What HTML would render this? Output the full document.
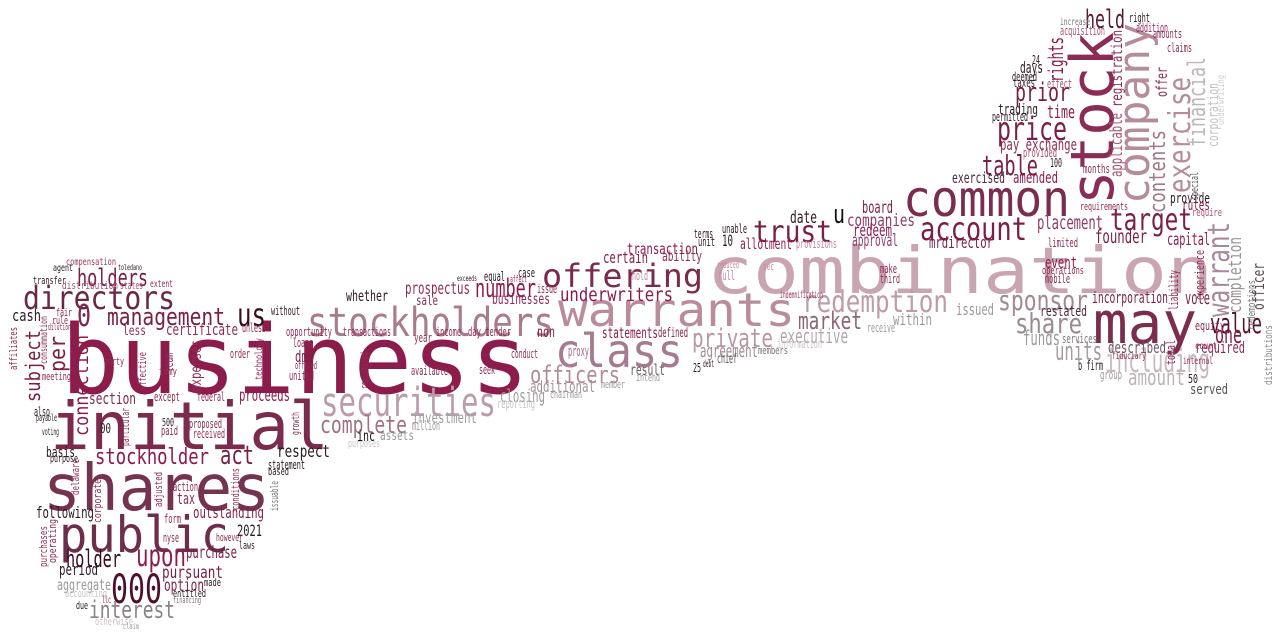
<!DOCTYPE html>
<html><head><meta charset="utf-8">
<style>
html,body{margin:0;padding:0;background:#fff;}
svg{display:block;}
text{font-family:"DejaVu Sans Mono","Liberation Mono",monospace;}
</style></head>
<body>
<svg id="cloud" width="1280" height="640" viewBox="0 0 1280 640" xmlns="http://www.w3.org/2000/svg"></svg>
<script>
// word, x, baseline, font size, text length, color, vertical flag
const C1='#8c1c4b',C2='#7a2a4c',C3='#6a2846',C4='#4e0f2c',P1='#a8556f',P2='#b97a93',L1='#c9a5b2',L2='#b58c9c',G1='#9a9a9a',G2='#c6c6c6',K='#2a1a22',GP='#a08a95';
const words=[
['business',61,393,95,468,C1,0],
['initial',50,449,66,279,'#7b2b4c',0],
['shares',43,510,64,227,'#74344f',0],
['public',59,552,50,170,'#6d2e4b',0],
['combination',707,293,64,506,L1,0],
['warrants',558,326,46,237,'#b88c9c',0],
['stockholders',307,336,40,247,'#a87b8d',0],
['securities',321,416,40,175,'#bb9cab',0],
['class',555,367,46,128,'#a67b8f',0],
['common',903,216,50,167,'#7b2d4f',0],
['may',1093,343,58,104,'#7b2d4e',0],
['stock',1113,205,60,173,'#8a2c55',1],
['company',1149,204,44,181,L2,1],
['offering',542,287,32,161,C2,0],
['account',920,240,32,107,'#7a1f45',0],
['target',1110,230,30,82,'#7a1f45',0],
['trust',753,242,30,79,'#7a1f45',0],
['redemption',802,312,30,146,'#bf9aa9',0],
['sponsor',998,310,28,90,GP,0],
['share',1015,333,28,67,'#9a8a92',0],
['units',1055,360,26,47,'#a49aa0',0],
['including',1105,372,32,105,'#c9b8bf',0],
['amount',1128,385,22,57,'#bdb3b8',0],
['price',997,140,32,70,'#7a1f45',0],
['prior',1015,101,26,55,'#7a1f45',0],
['table',982,175,28,56,'#7a1f45',0],
['held',1085,28,26,40,'#5a1a35',0],
['time',1047,118,18,28,C1,0],
['directors',23,309,32,152,C3,0],
['management',107,325,24,118,'#7a1f45',0],
['us',237,326,32,29,'#3a0c20',0],
['holders',77,286,24,71,'#7a1f45',0],
['number',475,297,26,61,C1,0],
['private',692,347,26,81,'#b896a4',0],
['market',798,329,24,64,'#8a6575',0],
['officers',530,383,24,90,'#b28a9a',0],
['complete',320,433,24,87,'#9e7384',0],
['underwriters',560,301,19,113,C1,0],
['executive',780,343,20,68,'#b3a6ac',0],
['agreement',700,357,18,58,GP,0],
['additional',530,392,16,65,'#a3919a',0],
['closing',500,402,18,45,G1,0],
['stockholder',95,464,22,114,C1,0],
['act',220,464,26,34,'#7a1f45',0],
['upon',136,566,30,50,C1,0],
['holder',66,567,24,55,'#3a0c20',0],
['000',111,603,40,51,C4,0],
['interest',89,618,24,86,'#8a8285',0],
['purchase',186,558,17,51,'#7a1f45',0],
['pursuant',162,578,17,61,'#7a1f45',0],
['option',164,591,17,40,'#7a1f45',0],
['period',59,575,16,39,K,0],
['aggregate',57,590,15,54,G1,0],
['outstanding',193,518,16,71,'#7a1f45',0],
['following',36,518,16,58,K,0],
['2021',237,536,16,25,K,0],
['tax',177,504,16,18,'#8e2c55',0],
['respect',277,457,17,53,K,0],
['proceeds',239,401,17,51,C1,0],
['section',89,404,16,47,'#7a2a4c',0],
['certificate',166,335,16,72,'#8e2c55',0],
['cash',12,321,16,29,K,0],
['0',77,326,30,14,'#7a2a4c',0],
['prospectus',405,294,17,65,'#8e2c55',0],
['whether',346,301,15,42,K,0],
['businesses',492,304,15,58,'#8e2c55',0],
['statements',602,338,15,56,C1,0],
['transaction',627,254,15,71,C1,0],
['certain',603,263,16,45,C1,0],
['ability',662,261,14,40,'#8e2c55',0],
['allotment',740,249,15,52,C1,0],
['provisions',796,248,12,41,'#c4899f',0],
['date',790,223,17,27,K,0],
['u',833,223,26,12,'#111',0],
['board',862,213,17,31,'#7a1f45',0],
['companies',847,226,17,68,'#8e3b66',0],
['redeem',853,236,17,39,C1,0],
['approval',852,246,17,46,'#8e3b66',0],
['mrdirector',929,248,16,64,'#7a1f45',0],
['placement',1037,229,19,66,'#8e3b66',0],
['founder',1095,243,19,52,'#7a1f45',0],
['capital',1167,245,17,43,C1,0],
['value',1210,333,28,52,'#5a0f2e',0],
['one',1215,343,24,27,'#7a1f45',0],
['required',1195,353,16,50,'#8e2c55',0],
['described',1108,353,16,58,'#6b5a62',0],
['incorporation',1092,303,16,76,'#7a1f45',0],
['restated',1040,316,14,47,'#4a2a3a',0],
['issued',956,315,16,38,G1,0],
['vote',1185,304,18,25,'#7a1f45',0],
['within',893,325,16,39,G1,0],
['funds',1023,345,20,37,G1,0],
['event',1045,268,16,32,C1,0],
['operations',1042,274,11,42,'#8e2c55',0],
['mobile',1045,283,12,25,'#8e2c55',0],
['limited',1048,247,12,30,'#8e2c55',0],
['requirements',1080,210,11,48,'#8e2c55',0],
['provide',1170,203,14,40,K,0],
['rules',1182,210,14,28,C1,0],
['require',1192,216,11,30,P1,0],
['exercised',952,183,15,53,'#4a2a3a',0],
['amended',1013,183,16,45,C1,0],
['pay exchange',1000,150,16,77,'#8e2c55',0],
['provided',1023,157,12,34,P1,0],
['permitted',992,121,12,36,K,0],
['trading',998,114,14,40,K,0],
['days',1020,73,16,23,K,0],
['deemed',1012,81,12,25,K,0],
['taxes',1013,87,12,22,K,0],
['effect',1047,88,12,25,P1,0],
['100',1050,167,12,12,K,0],
['months',1083,173,12,27,'#8e2c55',0],
['24',1032,64,12,8,K,0],
['rights',1063,82,20,45,C1,1],
['registration',1122,107,15,77,'#8e2c55',1],
['applicable',1122,177,17,64,P1,1],
['offer',1167,97,15,30,'#8e2c55',1],
['contents',1165,213,22,83,'#a07a8a',1],
['exercise',1190,193,30,116,L2,1],
['financial',1205,147,24,90,'#bdb7ba',1],
['corporation',1218,147,14,64,'#c3c0c2',1],
['underwriting',1224,125,10,50,'#d0cdcf',1],
['special',1198,200,11,28,'#555',1],
['warrant',1229,317,30,95,'#a8889a',1],
['completion',1241,313,18,76,'#9a9296',1],
['officer',1264,310,16,47,'#5a4a52',1],
['experience',1204,300,12,50,'#8e2c55',1],
['liability',1178,310,12,40,'#8e2c55',1],
['redemptions',1255,330,11,50,'#777',1],
['distributions',1272,385,11,60,'#888',1],
['total',1175,365,12,25,'#8e2c55',1],
['served',1190,394,14,38,'#555',0],
['equity',1195,330,12,30,'#8e2c55',0],
['court',1195,349,10,22,'#8e2c55',0],
['internal',1183,364,10,30,'#8e2c55',0],
['50',1188,383,12,10,K,0],
['services',1062,343,12,35,'#777',0],
['fiduciary',1112,359,10,34,'#8e2c55',0],
['group',1100,379,12,22,G1,0],
['b firm',1078,370,13,25,K,0],
['subject',40,402,20,72,'#7a1f45',1],
['per',65,372,22,36,'#7a1f45',1],
['connection',88,436,19,101,C1,1],
['expenses',201,392,15,52,'#8e2c55',1],
['affiliates',17,370,11,43,'#8e2c55',1],
['consummation',47,364,10,48,'#8e2c55',1],
['team',173,372,12,19,'#8e2c55',1],
['effective',146,390,11,38,'#8e2c55',1],
['technology',262,380,10,42,'#8e2c55',1],
['particular',129,446,11,38,'#8e2c55',1],
['adjusted',162,507,11,35,'#8e2c55',1],
['conditions',239,510,11,42,'#8e2c55',1],
['delaware',79,495,11,36,'#8e2c55',1],
['corporate',101,523,11,44,'#8e2c55',1],
['operating',56,563,11,44,'#8e2c55',1],
['purchases',47,567,11,41,'#8e2c55',1],
['issuable',278,511,11,30,'#777',1],
['growth',299,435,11,23,'#8e2c55',1],
['registered',368,389,11,37,'#8e2c55',1],
['acquisition',1060,35,12,45,P1,0],
['increase',1060,25,10,30,'#777',0],
['right',1129,22,12,21,K,0],
['addition',1136,32,12,32,'#8e2c55',0],
['amounts',1153,38,12,29,'#8e2c55',0],
['claims',1167,52,12,25,'#8e2c55',0],
['compensation',66,265,10,50,'#8e3b5c',0],
['agent',53,271,10,20,K,0],
['toledano',118,270,8,24,K,0],
['transfer',33,284,11,33,K,0],
['distribution',62,289,11,56,P1,0],
['states',120,289,11,23,P1,0],
['extent',150,287,10,23,'#8e2c55',0],
['fair',56,316,11,16,'#8e2c55',0],
['rule',52,324,11,16,'#8e2c55',0],
['dilution',48,330,9,23,'#8e2c55',0],
['less',123,335,13,23,'#8e2c55',0],
['unless',242,332,12,24,'#8e2c55',0],
['without',271,315,12,29,K,0],
['opportunity',286,336,12,46,'#8e2c55',0],
['transactions',343,336,12,48,'#8e2c55',0],
['income',436,336,12,25,'#8e2c55',0],
['day tender',468,336,12,43,'#8e2c55',0],
['order',230,358,12,20,'#8e2c55',0],
['party',104,365,11,20,'#8e2c55',0],
['meeting',42,380,11,29,'#8e2c55',0],
['tdmy',159,375,11,18,'#8e2c55',0],
['loans',293,347,12,20,'#8e2c55',0],
['offered',295,369,11,22,'#8e2c55',0],
['united',289,380,12,25,'#8e2c55',0],
['year',414,342,12,18,'#8e2c55',0],
['available',411,375,12,37,'#8e2c55',0],
['conduct',511,358,12,27,'#8e2c55',0],
['seek',479,374,12,16,'#8e2c55',0],
['except',154,401,12,26,'#8e2c55',0],
['federal',197,401,12,28,'#8e2c55',0],
['also',34,416,12,16,K,0],
['payable',36,421,10,21,K,0],
['voting',42,435,10,17,K,0],
['paid',161,435,12,17,'#8e2c55',0],
['500',162,426,11,12,K,0],
['proposed',189,428,12,33,'#8e2c55',0],
['received',193,438,12,32,'#8e2c55',0],
['00',100,433,13,11,K,0],
['purpose',50,462,11,28,K,0],
['based',268,475,11,21,K,0],
['action',173,491,12,25,'#8e2c55',0],
['form',164,523,12,17,'#8e2c55',0],
['however',216,541,11,27,'#8e2c55',0],
['laws',239,549,11,16,K,0],
['nyse',163,542,12,16,'#8e2c55',0],
['made',204,586,11,17,K,0],
['entitled',173,597,11,33,K,0],
['financing',173,603,9,28,'#777',0],
['accounting',65,597,11,42,G2,0],
['due',76,609,11,12,K,0],
['llc',102,603,10,9,'#8e2c55',0],
['otherwise',95,625,11,38,G2,0],
['claim',123,629,8,16,G1,0],
['dmy',295,362,16,19,'#7a1f45',0],
['inc',357,441,15,18,'#111',0],
['assets',380,440,13,34,G1,0],
['purposes',348,447,11,32,G2,0],
['million',412,430,12,28,G1,0],
['investment',412,423,15,65,'#a3a0a2',0],
['equal',484,281,13,21,K,0],
['case',518,277,12,17,K,0],
['affect',510,282,9,17,'#8e2c55',0],
['exceeds',457,281,8,20,K,0],
['issue',537,293,12,20,'#8e2c55',0],
['sale',416,305,13,22,'#8e2c55',0],
['proxy',568,356,14,21,'#a6628a',0],
['result',630,375,15,35,'#6b5a62',0],
['intend',636,381,11,24,G1,0],
['member',601,388,11,24,G1,0],
['chairman',550,398,11,32,G1,0],
['chief',717,363,13,20,'#555',0],
['members',758,354,11,30,'#777',0],
['25',693,372,12,8,K,0],
['debt',703,367,10,11,K,0],
['information',777,348,12,45,G2,0],
['receive',867,332,12,28,G1,0],
['10',722,246,16,11,K,0],
['unable',722,233,12,25,K,0],
['terms',694,238,12,19,K,0],
['unit',698,246,12,17,K,0],
['full',718,280,13,17,'#c4899f',0],
['reduced',717,268,10,22,'#c4899f',0],
['sec',763,270,11,11,'#c4899f',0],
['hold',632,280,12,16,'#c4899f',0],
['make',880,273,12,17,'#8e2c55',0],
['third',880,283,12,20,'#8e2c55',0],
['indemnification',780,298,10,43,'#8e2c55',0],
['non',537,337,15,18,'#7a1f45',0],
['defined',658,337,13,30,'#7a1f45',0],
['reporting',497,408,12,38,G2,0],
['basis',46,457,14,29,K,0],
['statement',268,469,12,37,K,0]
];
const svg=document.getElementById('cloud');
const NS='http://www.w3.org/2000/svg';
words.forEach(w=>{
  const [t,x,y,s,len,col,v]=w;
  const el=document.createElementNS(NS,'text');
  el.setAttribute('x',x);el.setAttribute('y',y);
  el.setAttribute('font-size',s);el.setAttribute('fill',col);
  el.setAttribute('textLength',len);el.setAttribute('lengthAdjust','spacingAndGlyphs');
  if(v) el.setAttribute('transform','rotate(-90 '+x+' '+y+')');
  el.textContent=t;
  
  
  svg.appendChild(el);
});
</script>
</body></html>
